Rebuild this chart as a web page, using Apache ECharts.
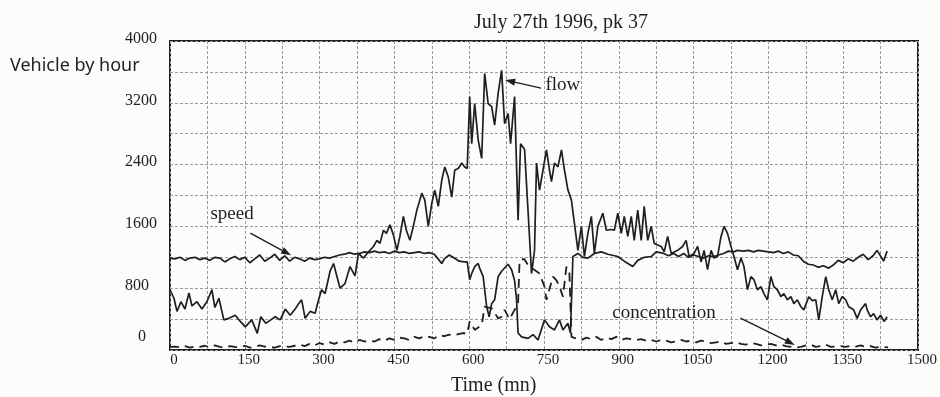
<!DOCTYPE html>
<html>
<head>
<meta charset="utf-8">
<script src="https://cdn.jsdelivr.net/npm/echarts@6/dist/echarts.min.js"></script>
<style>
html,body{margin:0;padding:0;background:#fcfcfb;}
#c{width:940px;height:397px;}
</style>
</head>
<body>
<div id="c"></div>
<script>
// ---- data (time in minutes, values in vehicles/hour) ----
const flowT = [0,8,14,22,30,38,44,54,64,74,84,90,98,108,118,131,141,151,164,175,182,192,202,211,221,231,241,251,258,264,271,281,291,298,304,311,321,328,334,341,351,361,371,378,388,398,408,415,421,428,434,441,448,455,461,468,474,481,488,495,505,511,518,525,531,538,545,551,558,565,571,578,585,591,596,601,605,611,618,625,631,638,645,651,658,665,671,678,683,691,698,703,711,718,725,731,735,741,748,755,761,765,771,778,785,791,798,805,811,818,825,831,838,845,851,858,868,875,885,891,898,905,911,918,925,931,938,945,951,958,965,971,978,985,991,998,1005,1018,1028,1035,1041,1051,1058,1065,1071,1078,1085,1091,1098,1105,1111,1118,1125,1131,1138,1145,1151,1158,1165,1171,1178,1185,1191,1198,1205,1211,1218,1225,1231,1238,1245,1251,1258,1265,1271,1281,1288,1295,1301,1308,1315,1321,1328,1335,1341,1348,1355,1361,1371,1378,1385,1395,1398,1405,1411,1418,1425,1432,1438];
const flowV = [780,670,500,625,530,740,570,625,530,625,780,550,670,390,410,450,370,300,390,215,430,345,390,430,390,530,450,530,600,650,410,500,475,650,780,730,1020,1120,970,800,860,1080,960,1250,1190,1270,1340,1420,1380,1550,1510,1620,1490,1290,1470,1730,1550,1420,1600,1810,2030,1940,1600,1900,2070,1860,2200,2370,2240,1980,2330,2350,2420,2370,2350,3280,2670,3190,2720,2480,3580,3190,3150,2910,3320,3620,2930,3060,2670,3280,1680,2670,2600,1800,990,1290,2420,2070,2330,2590,2330,2180,2420,2370,2590,2330,2070,1940,1640,1290,1600,1210,1510,1730,1250,1600,1770,1550,1560,1550,1770,1510,1730,1470,1730,1420,1810,1420,1860,1420,1600,1380,1360,1340,1270,1470,1250,1290,1340,1420,1210,1250,1340,1140,1290,1040,1290,1190,1210,1470,1600,1510,1340,1210,1040,1190,1080,780,950,910,780,820,730,650,950,820,780,690,730,650,690,600,650,560,520,690,640,650,390,690,950,780,650,780,600,690,650,560,520,410,520,600,520,430,470,390,450,370,430];

const speedT = [0,10,20,30,40,50,60,70,80,90,100,110,120,130,140,150,160,170,180,190,200,210,220,230,240,250,260,270,280,290,300,310,320,330,340,350,360,370,380,390,400,410,420,430,440,450,460,470,480,490,500,510,520,530,540,545,550,560,570,580,590,596,601,605,611,618,621,628,635,640,645,651,658,665,678,685,691,695,698,705,718,728,738,751,761,771,781,788,798,803,808,818,828,838,851,865,878,898,911,928,938,951,965,975,990,1000,1010,1020,1030,1040,1050,1060,1070,1080,1090,1100,1110,1120,1130,1138,1150,1160,1170,1180,1190,1200,1210,1220,1230,1240,1250,1260,1270,1280,1290,1300,1310,1321,1330,1340,1350,1360,1370,1380,1390,1400,1410,1418,1431,1438];
const speedV = [1190,1180,1200,1160,1190,1200,1170,1190,1160,1200,1190,1140,1180,1210,1170,1200,1130,1180,1230,1150,1190,1240,1160,1220,1150,1200,1180,1150,1190,1170,1180,1200,1190,1210,1230,1240,1260,1240,1250,1270,1260,1280,1260,1270,1250,1280,1260,1270,1250,1260,1270,1250,1260,1240,1160,1120,1180,1230,1190,1150,1140,1140,910,990,1080,1120,1060,950,560,430,600,650,950,1020,1110,1040,900,650,220,170,150,200,130,390,300,260,390,260,345,220,1210,1250,1200,1190,1250,1270,1240,1210,1150,1080,1160,1200,1210,1270,1250,1220,1250,1210,1250,1200,1230,1210,1190,1220,1210,1230,1250,1280,1270,1290,1280,1290,1270,1290,1280,1270,1260,1280,1250,1270,1230,1220,1150,1110,1100,1070,1090,1060,1100,1160,1130,1180,1150,1200,1240,1170,1220,1290,1150,1280];

const concT = [0,10,20,30,40,50,60,70,80,90,100,110,120,130,140,150,160,170,180,190,200,210,220,230,240,250,260,270,280,290,300,310,320,330,340,350,360,370,380,390,400,410,420,430,440,450,460,470,480,490,500,510,520,530,540,550,560,570,580,590,596,601,611,625,631,645,658,665,671,681,691,698,701,710,718,728,741,751,755,768,775,781,788,795,801,805,815,825,835,845,855,865,875,885,895,905,915,925,935,945,955,965,975,985,995,1005,1015,1025,1035,1045,1055,1065,1075,1085,1095,1105,1115,1125,1135,1145,1155,1165,1175,1185,1195,1205,1215,1225,1235,1245,1255,1265,1275,1285,1295,1305,1315,1325,1335,1345,1355,1365,1375,1385,1395,1405,1415,1425,1440];
const concV = [40,45,35,50,30,45,40,55,35,60,40,30,50,40,35,55,30,40,60,45,40,30,50,45,40,55,70,50,80,60,90,70,100,80,110,100,120,100,130,110,120,110,140,120,150,130,160,150,130,170,150,180,170,150,190,180,200,190,210,220,210,370,260,320,560,540,410,430,520,400,520,600,1160,1180,1100,1050,990,820,650,950,900,820,690,1080,990,170,150,130,160,140,170,130,160,140,170,130,150,140,130,140,120,130,110,130,120,100,110,130,110,120,100,120,110,90,100,110,80,90,100,80,70,90,80,60,70,80,60,70,50,40,30,40,60,70,40,50,70,40,45,50,40,55,45,60,40,50,30,40,35];

const xTicks = [0,150,300,450,600,750,900,1050,1200,1350,1500];
const yTicks = [0,800,1600,2400,3200,4000];

// annotation anchors in data space [time, value]
const flowLabelAt = [752, 3430];
const flowArrow = [[744, 3390], [682, 3480]];
const speedLabelAt = [80, 1760];
const speedArrow = [[161, 1514], [234, 1258]];
const concLabelAt = [886, 479];
const concArrow = [[1144, 414], [1244, 95]];

const pairs = (t, v) => t.map((x, i) => [x, v[i]]);
const serif = '"Liberation Serif", "DejaVu Serif", serif';
const ink = '#1f1f1f';

const chart = echarts.init(document.getElementById('c'));
function arrowLine(seg){
  return {
    silent: true, symbol: ['none', 'triangle'], symbolSize: [7, 10],
    label: {show: false},
    lineStyle: {color: ink, width: 1.4, type: 'solid'},
    data: [[{coord: seg[0]}, {coord: seg[1]}]]
  };
}
function txt(at, s){
  return {
    silent: true, symbol: 'circle', symbolSize: 1, itemStyle: {color: 'rgba(0,0,0,0)'},
    label: {show: true, position: 'right', distance: 0, formatter: s, fontFamily: serif, fontSize: 19, color: ink},
    data: [{coord: at}]
  };
}
chart.setOption({
  backgroundColor: '#fcfcfb',
  animation: false,
  title: {
    text: 'July 27th 1996, pk 37', left: 556, top: 8, textAlign: 'center',
    textStyle: {fontFamily: serif, fontSize: 20, fontWeight: 'normal', color: ink}
  },
  graphic: [{
    type: 'text', left: 10, top: 57,
    style: {text: 'Vehicle by hour', font: '18px "Noto Sans", sans-serif', fill: ink}
  }, {
    type: 'text', left: 451, top: 376,
    style: {text: 'Time (mn)', font: '20px "Liberation Serif", serif', fill: ink}
  }],
  grid: {left: 170, right: 18, top: 41, bottom: 47, show: true, borderColor: ink, borderWidth: 2, backgroundColor: 'transparent'},
  xAxis: {
    type: 'value', min: 0, max: 1500, interval: 75,
    axisLine: {show: false}, axisTick: {show: false},
    splitLine: {show: true, lineStyle: {color: '#9a9a9a', width: 1, type: [3, 2]}},
    axisLabel: {
      margin: 3, fontFamily: serif, fontSize: 15, color: ink, padding: [0, 0, 0, 8],
      formatter: v => xTicks.includes(v) ? String(v) : ''
    }
  },
  yAxis: {
    type: 'value', min: 0, max: 4000, interval: 400,
    axisLine: {show: false}, axisTick: {show: false},
    splitLine: {show: true, lineStyle: {color: '#9a9a9a', width: 1, type: [3, 2]}},
    axisLabel: {
      margin: 13, fontFamily: serif, fontSize: 16, color: ink,
      formatter: v => !yTicks.includes(v) ? '' : (v === 0 ? '{z|0}' : (v === 800 ? '{e|800}' : '{n|' + v + '}')),
      rich: {
        z: {fontFamily: serif, fontSize: 16, color: ink, padding: [0, 11, 26, 0]},
        e: {fontFamily: serif, fontSize: 16, color: ink, padding: [0, 8, 4, 0]},
        n: {fontFamily: serif, fontSize: 16, color: ink, padding: [0, 0, 5, 0]}
      }
    }
  },
  series: [{
    name: 'flow', type: 'line', data: pairs(flowT, flowV), showSymbol: false, smooth: false,
    lineStyle: {color: ink, width: 1.7},
    markLine: arrowLine(flowArrow), markPoint: txt(flowLabelAt, 'flow')
  }, {
    name: 'speed', type: 'line', data: pairs(speedT, speedV), showSymbol: false,
    lineStyle: {color: ink, width: 1.7},
    markLine: arrowLine(speedArrow), markPoint: txt(speedLabelAt, 'speed')
  }, {
    name: 'concentration', type: 'line', data: pairs(concT, concV), showSymbol: false,
    lineStyle: {color: ink, width: 1.8, type: [9, 6]},
    markLine: arrowLine(concArrow), markPoint: txt(concLabelAt, 'concentration')
  }]
});
</script>
</body>
</html>
